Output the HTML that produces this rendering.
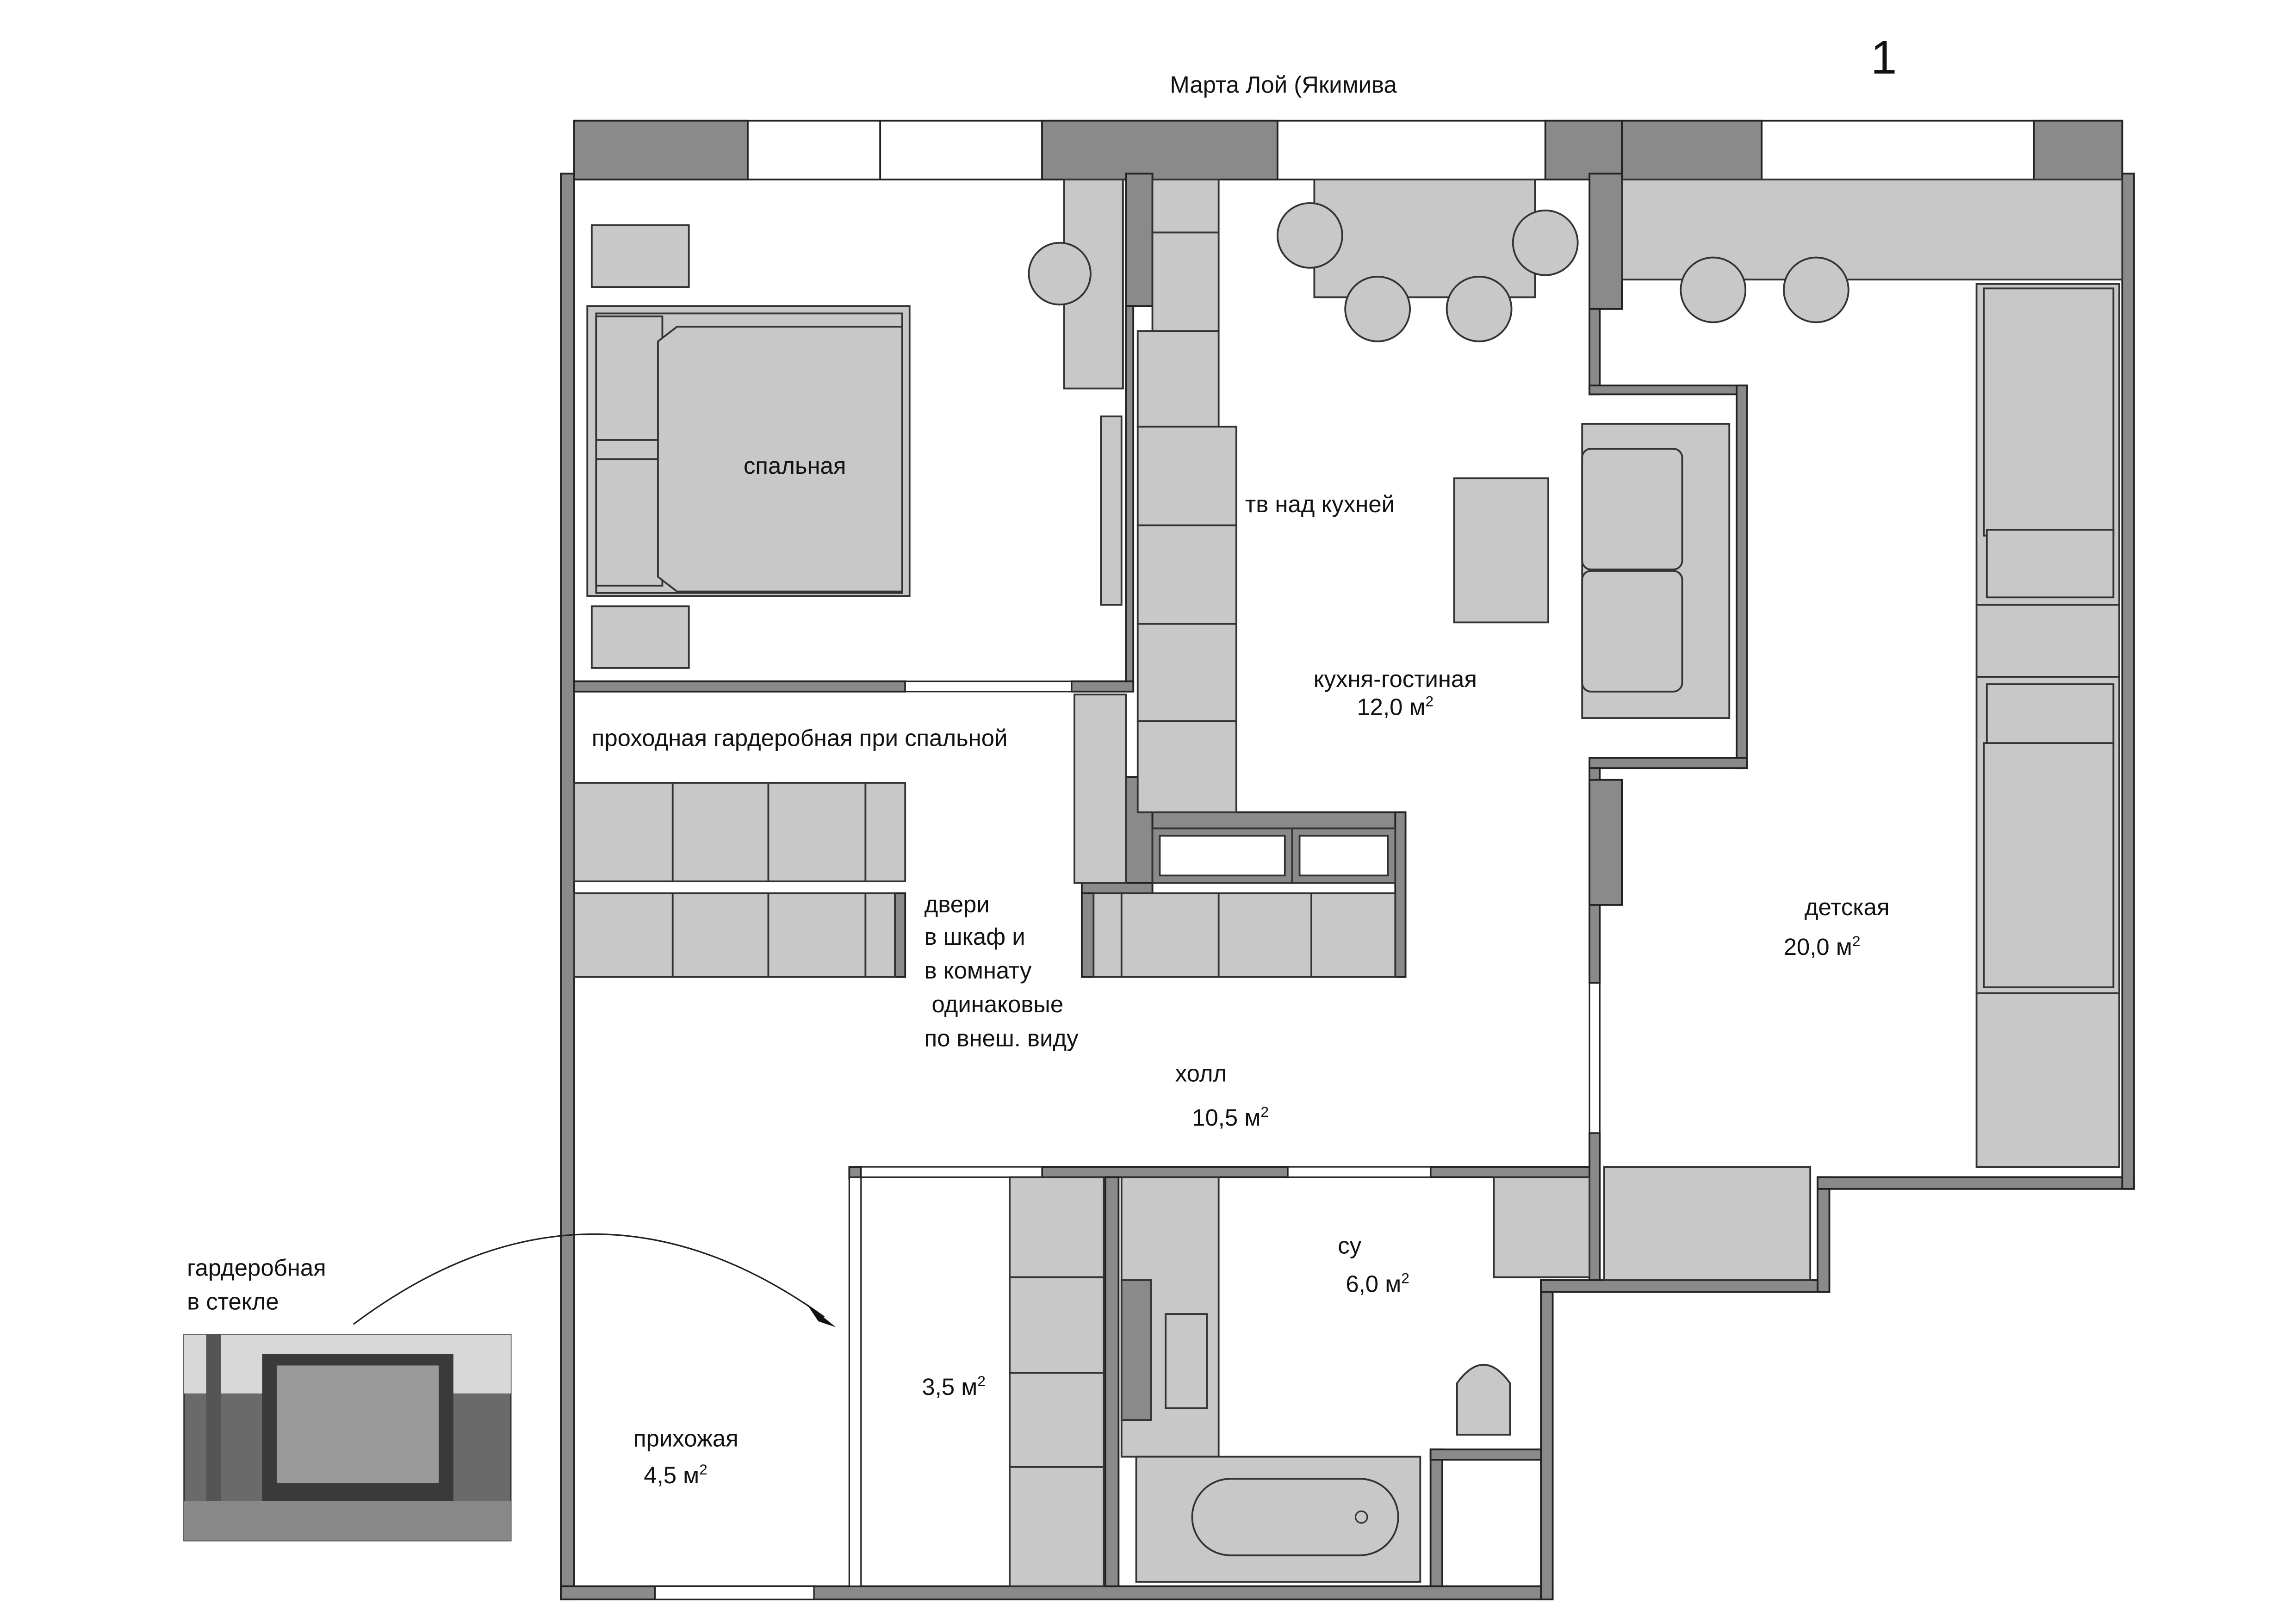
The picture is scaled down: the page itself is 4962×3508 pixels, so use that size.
<!DOCTYPE html>
<html><head><meta charset="utf-8"><style>
html,body{margin:0;padding:0;background:#fff}
svg{display:block}
text{font-family:"Liberation Sans","DejaVu Sans",sans-serif;fill:#111}
</style></head><body>
<svg width="4962" height="3508" viewBox="0 0 1560 1103" xmlns="http://www.w3.org/2000/svg">
<rect width="1560" height="1103" fill="#fff"/>
<g font-size="16">
<text x="872" y="63" text-anchor="middle">Марта Лой (Якимива</text>
<text x="1280" y="50" text-anchor="middle" font-size="32">1</text>
</g>
<!-- top band -->
<g stroke="#222" stroke-width="1.2">
<rect x="390" y="82" width="1052" height="40" fill="#fff"/>
<rect x="390" y="82" width="118" height="40" fill="#8a8a8a"/>
<rect x="708" y="82" width="160" height="40" fill="#8a8a8a"/>
<rect x="1050" y="82" width="52" height="40" fill="#8a8a8a"/>
<rect x="1102" y="82" width="95" height="40" fill="#8a8a8a"/>
<rect x="1382" y="82" width="60" height="40" fill="#8a8a8a"/>
<line x1="598" y1="82" x2="598" y2="122"/>
</g>
<!-- walls -->
<g fill="#8a8a8a" stroke="#222" stroke-width="1.2">
<rect x="381" y="118" width="9" height="969"/>
<rect x="381" y="1078" width="674" height="9"/>
<rect x="1047" y="870" width="8" height="217"/>
<rect x="1047" y="870" width="196" height="8"/>
<rect x="1235" y="800" width="8" height="78"/>
<rect x="1235" y="800" width="215" height="8"/>
<rect x="1442" y="118" width="8" height="690"/>
<rect x="765" y="118" width="18" height="90"/>
<rect x="765" y="208" width="5" height="257"/>
<rect x="1080" y="118" width="22" height="92"/>
<rect x="1080" y="210" width="7" height="58"/>
<rect x="1080" y="262" width="107" height="6"/>
<rect x="1180" y="262" width="7" height="260"/>
<rect x="1080" y="515" width="107" height="7"/>
<rect x="1080" y="522" width="7" height="146"/>
<rect x="1080" y="530" width="22" height="85"/>
<rect x="1080" y="770" width="7" height="100"/>
<rect x="390" y="463" width="225" height="7"/>
<rect x="728" y="463" width="42" height="7"/>
<rect x="577" y="793" width="8" height="8"/>
<rect x="708" y="793" width="167" height="7"/>
<rect x="972" y="793" width="108" height="7"/>
<rect x="751" y="800" width="9" height="278"/>
<rect x="972" y="985" width="8" height="93"/>
<rect x="972" y="985" width="75" height="7"/>
<rect x="765" y="528" width="18" height="92"/>
<rect x="735" y="607" width="8" height="57"/>
<rect x="783" y="552" width="172" height="11"/>
<rect x="948" y="552" width="7" height="112"/>
<rect x="735" y="600" width="48" height="7"/>
<rect x="608" y="607" width="7" height="57"/>
</g>
<!-- doors/windows white openings -->
<g fill="#fff" stroke="#222" stroke-width="1">
<rect x="615" y="463" width="113" height="7"/>
<rect x="445" y="1078" width="108" height="9"/>
<rect x="585" y="793" width="123" height="7"/>
<rect x="875" y="793" width="97" height="7"/>
<rect x="1080" y="668" width="7" height="102"/>
<rect x="577" y="800" width="8" height="278"/>
</g>
<!-- furniture -->
<g fill="#c8c8c8" stroke="#333" stroke-width="1.2">
<rect x="402" y="153" width="66" height="42"/>
<rect x="399" y="208" width="219" height="197"/>
<rect x="405" y="213" width="208" height="190"/>
<rect x="405" y="215" width="45" height="84"/>
<rect x="405" y="312" width="45" height="86"/>
<path d="M447 232 L460 222 L613 222 L613 402 L460 402 L447 392 Z"/>
<rect x="402" y="412" width="66" height="42"/>
<rect x="723" y="122" width="40" height="142"/>
<circle cx="720" cy="186" r="21"/>
<rect x="748" y="283" width="14" height="128"/>
<rect x="783" y="122" width="45" height="36"/>
<rect x="783" y="158" width="45" height="67"/>
<rect x="773" y="225" width="55" height="65"/>
<rect x="773" y="290" width="67" height="67"/>
<rect x="773" y="357" width="67" height="67"/>
<rect x="773" y="424" width="67" height="66"/>
<rect x="773" y="490" width="67" height="62"/>
<rect x="893" y="122" width="150" height="80"/>
<circle cx="890" cy="160" r="22"/>
<circle cx="1050" cy="165" r="22"/>
<circle cx="936" cy="210" r="22"/>
<circle cx="1005" cy="210" r="22"/>
<rect x="1102" y="122" width="340" height="68"/>
<circle cx="1164" cy="197" r="22"/>
<circle cx="1234" cy="197" r="22"/>
<rect x="988" y="325" width="64" height="98"/>
<rect x="1075" y="288" width="100" height="200"/>
<rect x="1075" y="305" width="68" height="82" rx="6"/>
<rect x="1075" y="388" width="68" height="82" rx="6"/>
<rect x="1343" y="193" width="97" height="218"/>
<rect x="1348" y="196" width="88" height="168"/>
<rect x="1350" y="360" width="86" height="46"/>
<rect x="1343" y="411" width="97" height="49"/>
<rect x="1343" y="460" width="97" height="215"/>
<rect x="1350" y="465" width="86" height="42"/>
<rect x="1348" y="505" width="88" height="166"/>
<rect x="1343" y="675" width="97" height="118"/>
<rect x="390" y="532" width="225" height="67"/>
<line x1="457" y1="532" x2="457" y2="599"/><line x1="522" y1="532" x2="522" y2="599"/><line x1="588" y1="532" x2="588" y2="599"/>
<rect x="390" y="607" width="218" height="57"/>
<line x1="457" y1="607" x2="457" y2="664"/><line x1="522" y1="607" x2="522" y2="664"/><line x1="588" y1="607" x2="588" y2="664"/>
<rect x="730" y="472" width="35" height="128"/>
<rect x="743" y="607" width="205" height="57"/>
<line x1="762" y1="607" x2="762" y2="664"/><line x1="828" y1="607" x2="828" y2="664"/><line x1="891" y1="607" x2="891" y2="664"/>
<rect x="783" y="563" width="95" height="37" fill="#8a8a8a"/>
<rect x="788" y="568" width="85" height="27" fill="#fff"/>
<rect x="878" y="563" width="70" height="37" fill="#8a8a8a"/>
<rect x="883" y="568" width="60" height="27" fill="#fff"/>
<rect x="686" y="800" width="64" height="68"/>
<rect x="686" y="868" width="64" height="65"/>
<rect x="686" y="933" width="64" height="64"/>
<rect x="686" y="997" width="64" height="81"/>
<rect x="762" y="800" width="66" height="190"/>
<rect x="792" y="893" width="28" height="64"/>
<rect x="762" y="870" width="20" height="95" fill="#8a8a8a"/>
<rect x="772" y="990" width="193" height="85"/>
<rect x="810" y="1005" width="140" height="52" rx="26"/>
<path d="M990 975 L990 940 Q1008 915 1026 940 L1026 975 Z"/>
<rect x="1015" y="800" width="65" height="68"/>
<rect x="1090" y="793" width="140" height="77"/>
</g>
<circle cx="925" cy="1031" r="4" fill="none" stroke="#333"/>
<!-- photo -->
<rect x="125" y="907" width="222" height="140" fill="#6a6a6a" stroke="#333"/>
<rect x="125" y="907" width="222" height="40" fill="#d8d8d8"/>
<rect x="178" y="920" width="130" height="100" fill="#3a3a3a"/>
<rect x="188" y="928" width="110" height="80" fill="#9a9a9a"/>
<rect x="140" y="907" width="10" height="120" fill="#555"/>
<rect x="125" y="1020" width="222" height="27" fill="#888"/>
<path d="M240 900 Q400 780 560 895" fill="none" stroke="#222" stroke-width="1"/>
<path d="M568 902 L548 886 L556 898 Z" fill="#111"/>
<!-- labels -->
<g font-size="16">
<text x="540" y="322" text-anchor="middle">спальная</text>
<text x="846" y="348">тв над кухней</text>
<text x="948" y="467" text-anchor="middle">кухня-гостиная</text>
<text x="948" y="486" text-anchor="middle">12,0 м<tspan font-size="10" dy="-6">2</tspan></text>
<text x="402" y="507">проходная гардеробная при спальной</text>
<text x="628" y="620">двери</text>
<text x="628" y="642">в шкаф и</text>
<text x="628" y="665">в комнату</text>
<text x="633" y="688">одинаковые</text>
<text x="628" y="711">по внеш. виду</text>
<text x="816" y="735" text-anchor="middle">холл</text>
<text x="836" y="765" text-anchor="middle">10,5 м<tspan font-size="10" dy="-6">2</tspan></text>
<text x="1255" y="622" text-anchor="middle">детская</text>
<text x="1238" y="649" text-anchor="middle">20,0 м<tspan font-size="10" dy="-6">2</tspan></text>
<text x="917" y="852" text-anchor="middle">су</text>
<text x="936" y="878" text-anchor="middle">6,0 м<tspan font-size="10" dy="-6">2</tspan></text>
<text x="648" y="948" text-anchor="middle">3,5 м<tspan font-size="10" dy="-6">2</tspan></text>
<text x="466" y="983" text-anchor="middle">прихожая</text>
<text x="459" y="1008" text-anchor="middle">4,5 м<tspan font-size="10" dy="-6">2</tspan></text>
<text x="127" y="867">гардеробная</text>
<text x="127" y="890">в стекле</text>
</g>
</svg>
</body></html>
